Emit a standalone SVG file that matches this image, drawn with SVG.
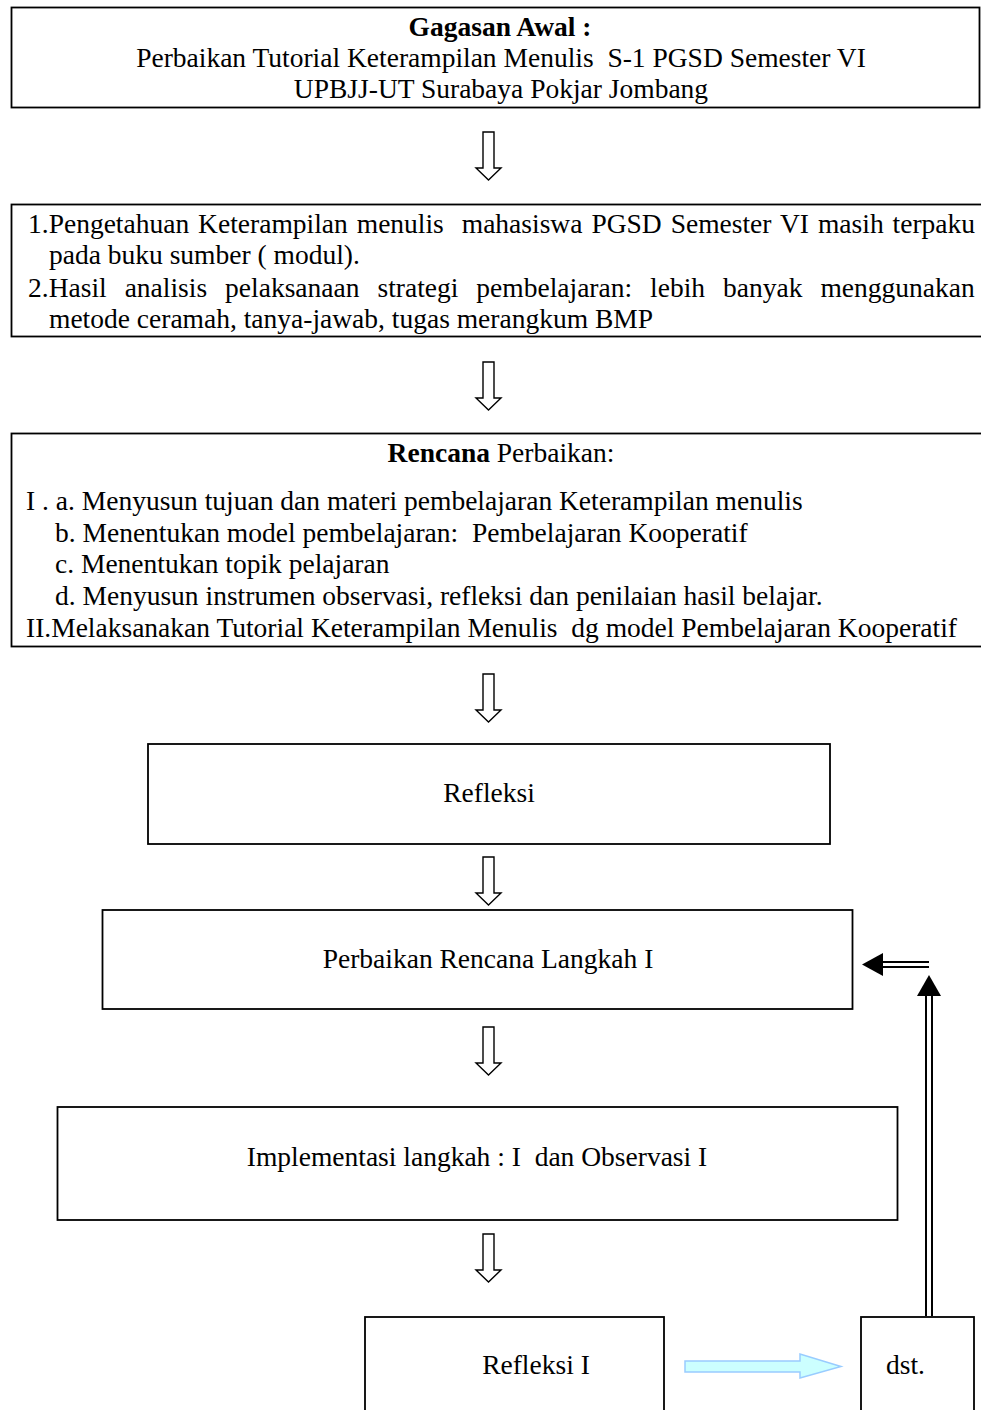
<svg xmlns="http://www.w3.org/2000/svg" width="981" height="1410" viewBox="0 0 981 1410">
<style>
.box{fill:#fff;stroke:#000;stroke-width:1.8}
.t{font-family:"Liberation Serif","Times New Roman",serif;font-size:27.5px;fill:#000;white-space:pre}
.c{text-anchor:middle}
.b{font-weight:bold}
.hollow{fill:#fff;stroke:#000;stroke-width:1.4}
.dl{stroke:#000;stroke-width:2;fill:none}
</style>
<defs>
<path id="down" d="M-5,0 H6 V36 H13 L0.5,48 L-12,36 H-5 Z"/>
</defs>
<rect width="981" height="1410" fill="#fff"/>

<g id="node-gagasan">
<rect class="box" x="11.5" y="7.5" width="968" height="100"/>
<text class="t c b" x="500" y="36">Gagasan Awal :</text>
<text class="t c" x="501" y="67" xml:space="preserve">Perbaikan Tutorial Keterampilan Menulis  S-1 PGSD Semester VI</text>
<text class="t c" x="501" y="98">UPBJJ-UT Surabaya Pokjar Jombang</text>
</g>

<g id="node-masalah">
<rect class="box" x="11.5" y="204.5" width="972" height="132"/>
<text class="t" x="28" y="233" word-spacing="2.1" xml:space="preserve">1.Pengetahuan Keterampilan menulis  mahasiswa PGSD Semester VI masih terpaku</text>
<text class="t" x="49" y="264">pada buku sumber ( modul).</text>
<text class="t" x="28" y="297" word-spacing="11.1">2.Hasil analisis pelaksanaan strategi pembelajaran: lebih banyak menggunakan</text>
<text class="t" x="49" y="328">metode ceramah, tanya-jawab, tugas merangkum BMP</text>
</g>

<g id="node-rencana">
<rect class="box" x="11.5" y="433.5" width="972" height="213"/>
<text class="t c" x="501" y="462"><tspan class="b">Rencana</tspan> Perbaikan:</text>
<text class="t" x="26" y="510">I . a. Menyusun tujuan dan materi pembelajaran Keterampilan menulis</text>
<text class="t" x="55" y="542" xml:space="preserve">b. Menentukan model pembelajaran:  Pembelajaran Kooperatif</text>
<text class="t" x="55" y="573">c. Menentukan topik pelajaran</text>
<text class="t" x="55" y="605">d. Menyusun instrumen observasi, refleksi dan penilaian hasil belajar.</text>
<text class="t" x="26" y="637" xml:space="preserve">II.Melaksanakan Tutorial Keterampilan Menulis  dg model Pembelajaran Kooperatif</text>
</g>

<g id="node-refleksi">
<rect class="box" x="148" y="744" width="682" height="100"/>
<text class="t c" x="489" y="802">Refleksi</text>
</g>

<g id="node-perbaikan">
<rect class="box" x="102.5" y="910" width="750" height="99"/>
<text class="t c" x="488" y="968">Perbaikan Rencana Langkah I</text>
</g>

<g id="node-implementasi">
<rect class="box" x="57.5" y="1107" width="840" height="113"/>
<text class="t c" x="477" y="1166" xml:space="preserve">Implementasi langkah : I  dan Observasi I</text>
</g>

<g id="node-refleksi1">
<rect class="box" x="365" y="1317" width="299" height="100"/>
<text class="t c" x="536" y="1374">Refleksi I</text>
</g>

<g id="node-dst">
<rect class="box" x="861" y="1317" width="113" height="100"/>
<text class="t" x="886" y="1374">dst.</text>
</g>

<g id="connectors">
<use href="#down" class="hollow" x="488" y="132"/>
<use href="#down" class="hollow" x="488" y="362"/>
<use href="#down" class="hollow" x="488" y="674"/>
<use href="#down" class="hollow" x="488" y="857"/>
<use href="#down" class="hollow" x="488" y="1027"/>
<use href="#down" class="hollow" x="488" y="1234"/>
<line class="dl" x1="926" y1="995" x2="926" y2="1316"/>
<line class="dl" x1="932" y1="995" x2="932" y2="1316"/>
<path d="M929,975 L941,996 L917,996 Z" fill="#000"/>
<line class="dl" x1="882" y1="962" x2="929" y2="962"/>
<line class="dl" x1="882" y1="967" x2="929" y2="967"/>
<path d="M862,964.5 L883,953 L883,976 Z" fill="#000"/>
<path d="M685,1361 H800 V1354 L841,1366.5 L800,1378 V1372 H685 Z" fill="#ccffff" stroke="#99ccff" stroke-width="1.5"/>
</g>
</svg>
